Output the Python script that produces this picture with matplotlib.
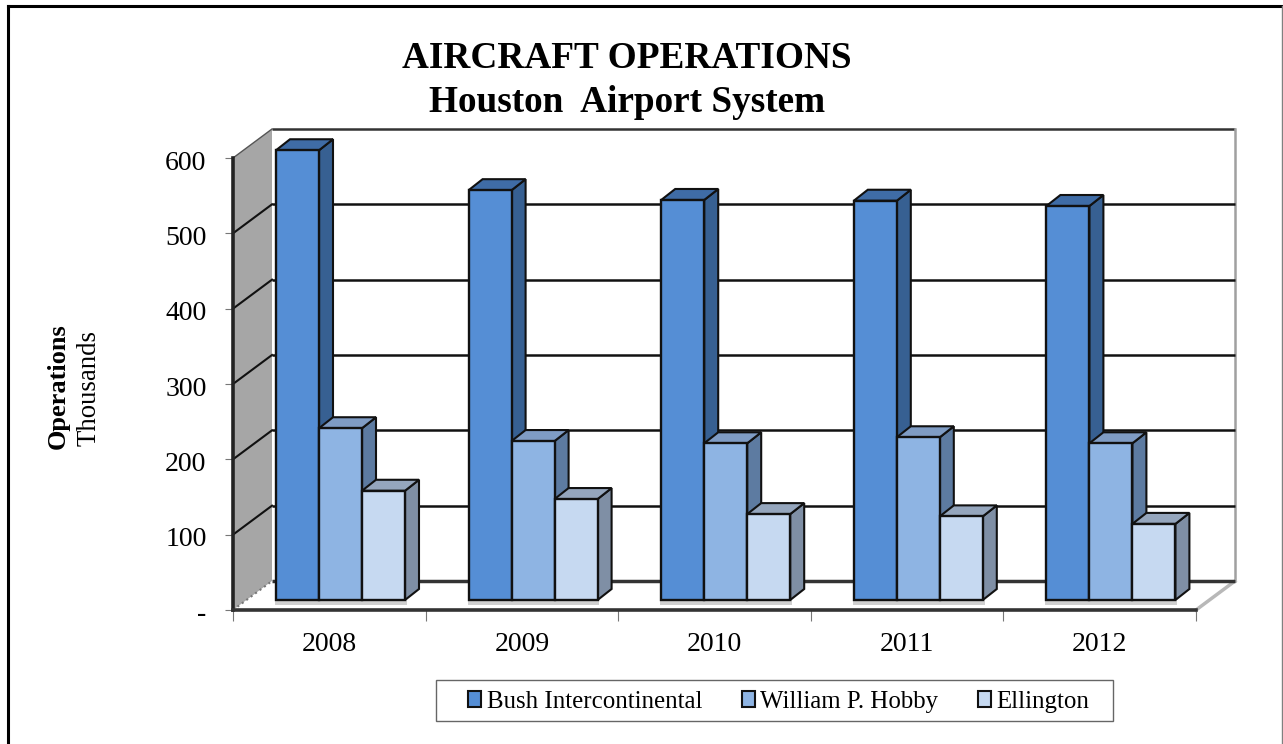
"""Aircraft operations chart - Houston Airport System (3D style bars drawn by hand)"""

import matplotlib
matplotlib.use("Agg")
import matplotlib.pyplot as plt
from matplotlib.lines import Line2D
from matplotlib.patches import Rectangle, Patch
from matplotlib.transforms import ScaledTranslation

# ============ DATA ============
years = ["2008", "2009", "2010", "2011", "2012"]
bush = [597, 544, 531, 530, 523]
hobby = [228, 211, 208, 216, 208]
ellington = [145, 134, 114, 111, 101]
series_names = ["Bush Intercontinental", "William P. Hobby", "Ellington"]
y_ticks = [0, 100, 200, 300, 400, 500, 600]
y_labels = ["-", "100", "200", "300", "400", "500", "600"]

# ============ STYLE ============
W, H = 1283, 744
front_colors = ["#558ed5", "#8eb4e3", "#c6d9f1"]
side_colors = ["#376092", "#5d7ba1", "#7f8fa5"]
top_colors = ["#3f6ca6", "#7f9cc4", "#95a6bd"]

plt.rcParams["font.family"] = ["Liberation Serif", "DejaVu Serif"]

fig = plt.figure(figsize=(W / 100, H / 100), dpi=100)
# front plane of the chart, in pixels
left, right, top, bottom = 233, 1196, 158, 610
ax = fig.add_axes([left / W, 1 - bottom / H, (right - left) / W, (bottom - top) / H])
ax.set_xlim(0, len(years))
ax.set_ylim(0, 600)
ax.patch.set_visible(False)

px_x = len(years) / (right - left)  # data units per pixel
px_y = 600 / (bottom - top)

wall_dx, wall_dy = 39 * px_x, 29 * px_y
bar_dx, bar_dy = 14 * px_x, 11 * px_y
bar_lift = 10 * px_y
bar_w = 43 * px_x
bar_start = 43 * px_x

# walls and floor
ax.fill([0, wall_dx, wall_dx, 0], [0, wall_dy, 600 + wall_dy, 600],
        color="#a6a6a6", lw=0, clip_on=False, zorder=1)
ax.plot([0, wall_dx], [600, 600 + wall_dy], color="#555555", lw=1, clip_on=False, zorder=2)
ax.plot([wall_dx, 5 + wall_dx], [600 + wall_dy] * 2, color="#333333", lw=1.8, clip_on=False,
        zorder=2, solid_capstyle="butt")
ax.plot([5 + wall_dx] * 2, [wall_dy, 600 + wall_dy], color="#a0a0a0", lw=1.8, clip_on=False, zorder=2)
ax.plot([5, 5 + wall_dx], [0, wall_dy], color="#b8b8b8", lw=2.5, clip_on=False, zorder=2)
ax.plot([0, wall_dx], [0, wall_dy], color="#777777", lw=1.5, ls=":", clip_on=False, zorder=2)

# gridlines run along the left wall and then the back wall
for v in y_ticks[:-1]:
    lw = 2.5 if v == 0 else 1.8
    color = "#333333" if v == 0 else "#111111"
    if v > 0:
        ax.plot([0, wall_dx], [v, v + wall_dy], color="#111111", lw=1.5, clip_on=False, zorder=2)
    ax.plot([wall_dx, 5 + wall_dx], [v + wall_dy] * 2, color=color, lw=lw,
            clip_on=False, zorder=2, solid_capstyle="butt")

# bars
z = 5
for i in range(len(years)):
    vals = [bush[i], hobby[i], ellington[i]]
    x0 = i + bar_start
    ax.add_patch(Rectangle((x0 - 1 * px_x, bar_lift - 5 * px_y), 3 * bar_w + bar_dx * 0.2, 5 * px_y,
                           color="#d0d0d0", lw=0, clip_on=False, zorder=z))
    for j, v in enumerate(vals):
        x = x0 + j * bar_w
        t = v + bar_lift
        # side face
        ax.fill([x + bar_w, x + bar_w + bar_dx, x + bar_w + bar_dx, x + bar_w],
                [bar_lift, bar_lift + bar_dy, t + bar_dy, t],
                facecolor=side_colors[j], edgecolor="#111111", lw=1.5, clip_on=False, zorder=z)
        # top face
        ax.fill([x, x + bar_dx, x + bar_w + bar_dx, x + bar_w],
                [t, t + bar_dy, t + bar_dy, t],
                facecolor=top_colors[j], edgecolor="#111111", lw=1.5, clip_on=False, zorder=z)
        # front face
        ax.bar(x, v, width=bar_w, bottom=bar_lift, align="edge", color=front_colors[j],
               edgecolor="#111111", lw=1.7, clip_on=False, zorder=z + 1)
        z += 2

# axes
for s in ["top", "right"]:
    ax.spines[s].set_visible(False)
ax.spines["left"].set_linewidth(2.6)
ax.spines["left"].set_color("#222222")
ax.spines["bottom"].set_linewidth(2.6)
ax.spines["bottom"].set_color("#333333")
ax.set_yticks(y_ticks)
ax.set_yticklabels(y_labels, fontsize=20)
ax.set_xticks(range(len(years) + 1))
ax.set_xticklabels([])
ax.set_xticks([i + 0.5 for i in range(len(years))], minor=True)
ax.set_xticklabels(years, minor=True, fontsize=20)
ax.tick_params(axis="y", length=6, width=0.8, color="#777777", pad=13)
ax.tick_params(axis="x", which="major", length=8, width=0.8, color="#777777")
ax.tick_params(axis="x", which="minor", length=0, pad=16)
# y labels sit slightly below their ticks
nudge = ScaledTranslation(0, -2 / 100, fig.dpi_scale_trans)
for label in ax.get_yticklabels():
    label.set_transform(label.get_transform() + nudge)

# title and axis labels
fig.text(627 / W, 1 - 67.7 / H, "AIRCRAFT OPERATIONS", ha="center", va="baseline",
         fontsize=26.8, fontweight="bold")
fig.text(627.5 / W, 1 - 111.7 / H, "Houston  Airport System", ha="center", va="baseline",
         fontsize=26.8, fontweight="bold")
fig.text(58 / W, 1 - 386.5 / H, "Operations", rotation=90, ha="center", va="center",
         fontsize=19, fontweight="bold")
fig.text(89 / W, 1 - 388 / H, "Thousands", rotation=90, ha="center", va="center", fontsize=19.3)

# legend, frame drawn separately so the box can be wider than the entries
fig.add_artist(Rectangle((436 / W, 1 - 721 / H), 677 / W, 41 / H, transform=fig.transFigure,
                         facecolor="white", edgecolor="#666666", lw=1))
handles = [Patch(facecolor=c, edgecolor="#111111", lw=1.5) for c in front_colors]
leg = fig.legend(handles, series_names, loc="center", bbox_to_anchor=(779 / W, 1 - 702 / H),
                 ncol=3, fontsize=17.9, frameon=False, handlelength=0.52, handleheight=0.6,
                 handletextpad=0.22, columnspacing=1.6, borderpad=0, borderaxespad=0)

# outer border: no line along the bottom edge
for xs, ys, col, lw in [([8, 8], [6, H], "black", 2.2),
                        ([8, W], [6, 6], "black", 2.2),
                        ([W - 1, W - 1], [6, H], "#808080", 1)]:
    fig.add_artist(Line2D([x / W for x in xs], [1 - y / H for y in ys], color=col, lw=lw,
                          transform=fig.transFigure))

plt.savefig("out.png", dpi=100)
